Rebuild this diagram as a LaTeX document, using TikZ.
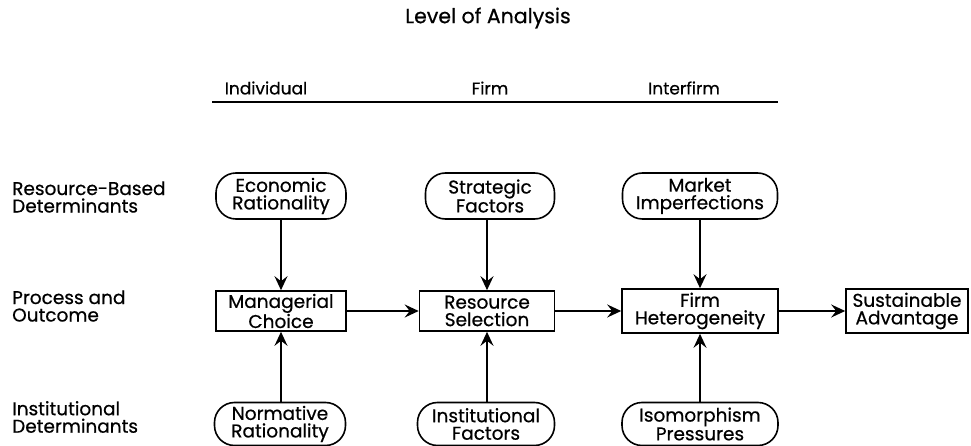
\documentclass[tikz,border=0pt]{standalone}
\usepackage{fontspec}
\setmainfont{Poppins}[FakeBold=0.6]
\newfontfamily\medfont{Poppins}[FakeBold=0.6]
\usetikzlibrary{arrows.meta}
\begin{document}
\begin{tikzpicture}[x=1pt,y=-1pt,
  every node/.style={font=\medfont\fontsize{18.5}{17.5}\selectfont, inner sep=0pt},
  oval/.style={draw, line width=1.6pt, rounded corners=20pt, minimum height=46pt, align=center},
  sqbox/.style={draw, line width=1.6pt, minimum height=40pt, align=center},
  lbl/.style={align=left, anchor=west},
  hdr/.style={font=\medfont\fontsize{17}{17}\selectfont},
  arr/.style={-{Stealth[length=14pt,width=13pt,inset=5pt]}, line width=1.6pt}
]
\useasboundingbox (0,0) rectangle (971,446);
\node[font=\medfont\fontsize{20.5}{20}\selectfont] (title) at (488,18) {Level of Analysis};
\node[hdr] (hind) at (266,88) {Individual};
\node[hdr] (hfirm) at (490,88) {Firm};
\node[hdr] (hinter) at (684,88) {Interfirm};
\coordinate (la) at (212,102);
\coordinate (lb) at (778,102);
\draw[line width=1.6pt] (la) -- (lb);

\node[lbl] (r1) at (12,197) {Resource-Based\\Determinants};
\node[lbl] (r2) at (12,306) {Process and\\Outcome};
\node[lbl] (r3) at (12,417) {Institutional\\Determinants};

\node[oval, minimum width=130pt] (econ) at (281,196) {Economic\\Rationality};
\node[oval, minimum width=129pt] (strat) at (490,196) {Strategic\\Factors};
\node[oval, minimum width=155pt] (market) at (700,196) {Market\\Imperfections};

\node[sqbox, minimum width=130pt] (mgr) at (281,311) {Managerial\\Choice};
\node[sqbox, minimum width=135pt] (res) at (487,311) {Resource\\Selection};
\node[sqbox, minimum width=156pt, minimum height=44pt] (het) at (700,311) {Firm\\Heterogeneity};
\node[sqbox, minimum width=122pt, minimum height=44pt] (sus) at (907,311) {Sustainable\\Advantage};

\node[oval, minimum width=131pt, minimum height=43pt] (norm) at (280,424) {Normative\\Rationality};
\node[oval, minimum width=137pt, minimum height=43pt] (inst) at (486,424) {Institutional\\Factors};
\node[oval, minimum width=156pt, minimum height=43pt] (iso) at (700,424) {Isomorphism\\Pressures};

\draw[arr] (econ) -- (mgr);
\draw[arr] (strat.south -| res) -- (res);
\draw[arr] (market) -- (het);
\draw[arr] (norm.north -| mgr) -- (mgr);
\draw[arr] (inst.north -| res) -- (res);
\draw[arr] (iso) -- (het);
\draw[arr] (mgr) -- (res);
\draw[arr] (res) -- (het);
\draw[arr] (het) -- (sus);
\end{tikzpicture}
\end{document}
